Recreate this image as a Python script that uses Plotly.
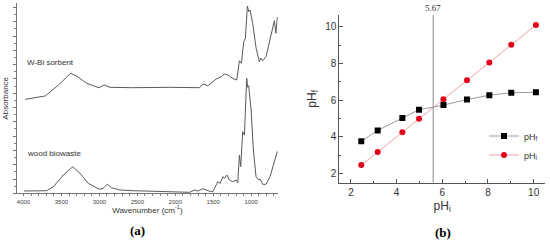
import plotly.graph_objects as go

# ── (a) FTIR spectra, absorbance in arbitrary units ───────────────────────────
wn_sorbent = [3978, 3715, 3540, 3378, 3299, 3168, 3006, 2937, 2862, 2560, 2074, 1680,
              1637, 1571, 1461, 1395, 1352, 1308, 1243, 1190, 1155, 1129, 1098, 1076,
              1050, 1032, 1014, 980, 935, 892, 872, 849, 804, 739, 695, 675, 655]
abs_sorbent = [0.940, 0.973, 1.083, 1.200, 1.173, 1.100, 1.056, 1.083, 1.060, 1.056,
               1.060, 1.056, 1.093, 1.076, 1.143, 1.166, 1.193, 1.183, 1.150, 1.133,
               1.326, 1.300, 1.516, 1.553, 1.873, 1.816, 1.833, 1.700, 1.450, 1.316,
               1.353, 1.326, 1.366, 1.600, 1.726, 1.600, 1.763]

wn_wood = [3991, 3693, 3606, 3475, 3351, 3256, 3147, 3002, 2950, 2897, 2839, 2730,
           2556, 2200, 1811, 1746, 1702, 1637, 1558, 1505, 1440, 1408, 1374, 1348,
           1321, 1286, 1243, 1198, 1177, 1155, 1138, 1112, 1089, 1059, 1046, 1033,
           1001, 971, 936, 901, 883, 849, 804, 752, 695, 655]
abs_wood = [0.023, 0.026, 0.066, 0.183, 0.266, 0.200, 0.100, 0.040, 0.050, 0.090,
            0.056, 0.033, 0.026, 0.020, 0.010, 0.033, 0.023, 0.046, 0.023, 0.016,
            0.116, 0.100, 0.166, 0.150, 0.183, 0.133, 0.116, 0.133, 0.106, 0.383,
            0.266, 0.616, 0.583, 1.150, 1.060, 1.076, 0.833, 0.433, 0.166, 0.133,
            0.143, 0.090, 0.090, 0.166, 0.316, 0.420]

# ── (b) pH drift ──────────────────────────────────────────────────────────────
ph_initial = [2.45, 3.17, 4.25, 4.98, 6.05, 7.08, 8.06, 9.02, 10.1]
ph_final = [3.76, 4.34, 5.02, 5.47, 5.73, 6.03, 6.27, 6.40, 6.43]
ph_zero = 5.6
ph_zero_label = "5.67"

SANS = "Liberation Sans"
SERIF = "Liberation Serif"

fig = go.Figure()

fig.add_trace(go.Scatter(x=wn_sorbent, y=abs_sorbent, mode="lines", showlegend=False,
                         line=dict(color="#5a5a5a", width=1), xaxis="x", yaxis="y"))
fig.add_trace(go.Scatter(x=wn_wood, y=abs_wood, mode="lines", showlegend=False,
                         line=dict(color="#5a5a5a", width=1), xaxis="x", yaxis="y"))

fig.add_trace(go.Scatter(
    x=ph_initial, y=ph_final, mode="lines+markers", name="pH<sub>f</sub>",
    line=dict(color="#9a9a9a", width=1),
    marker=dict(symbol="square", size=6, color="#000000"),
    xaxis="x2", yaxis="y2",
))
fig.add_trace(go.Scatter(
    x=ph_initial, y=ph_initial, mode="lines+markers", name="pH<sub>i</sub>",
    line=dict(color="#f2a0a0", width=1),
    marker=dict(symbol="circle", size=6, color="#e3001b"),
    xaxis="x2", yaxis="y2",
))

fig.add_shape(type="line", x0=ph_zero, x1=ph_zero, y0=1.49, y1=10.65,
              xref="x2", yref="y2", line=dict(color="#8a8a8a", width=1))

axis_common = dict(showgrid=False, zeroline=False, showline=True, mirror=False)

fig.update_layout(
    width=550, height=243,
    margin=dict(l=0, r=0, t=0, b=0),
    paper_bgcolor="white", plot_bgcolor="white",
    font=dict(family=SANS, color="#333"),
    xaxis=dict(
        **axis_common, domain=[0.031, 0.505], range=[4085, 650],
        linecolor="#777", linewidth=1,
        ticks="outside", ticklen=2, tickcolor="#777", tickvals=[4000, 3500, 3000, 2500, 2000, 1500, 1000],
        minor=dict(ticks="outside", ticklen=2, dtick=100, tick0=0, tickcolor="#888"),
        tickfont=dict(size=6, color="#444"), ticklabelstandoff=0,
        title=dict(text="Wavenumber (cm<sup>-1</sup>)", font=dict(size=8, color="#333"), standoff=1),
    ),
    yaxis=dict(
        **axis_common, domain=[0.2045, 0.9864], range=[0, 1.9],
        linecolor="#777", linewidth=1, showticklabels=False,
        ticks="outside", ticklen=3, tickcolor="#777", tick0=0, dtick=0.143,
        minor=dict(ticks="outside", ticklen=2, dtick=0.0715, tickcolor="#888"),
        title=dict(text="Absorbance", font=dict(size=8, color="#333"), standoff=3),
    ),
    xaxis2=dict(
        **axis_common, domain=[0.617, 0.991], range=[1.49, 10.5], anchor="y2",
        linecolor="#555", linewidth=1,
        ticks="inside", ticklen=4, tickcolor="#555", tickvals=[2, 4, 6, 8, 10],
        minor=dict(ticks="inside", ticklen=2, dtick=1, tick0=1, tickcolor="#555"),
        tickfont=dict(size=10, color="#333"),
        title=dict(text="pH<sub>i</sub>", font=dict(size=12, color="#333"), standoff=4),
    ),
    yaxis2=dict(
        **axis_common, domain=[0.2482, 0.9383], range=[1.49, 10.65], anchor="x2",
        linecolor="#555", linewidth=1,
        ticks="inside", ticklen=4, tickcolor="#555", tickvals=[2, 4, 6, 8, 10],
        minor=dict(ticks="inside", ticklen=2, dtick=1, tick0=1, tickcolor="#555"),
        tickfont=dict(size=10, color="#333"),
        title=dict(text="pH<sub>f</sub>", font=dict(size=12, color="#333"), standoff=6),
    ),
    legend=dict(
        x=0.88, y=0.5, xanchor="left", yanchor="top",
        bgcolor="rgba(0,0,0,0)", font=dict(size=9, color="#333"),
        itemwidth=30, tracegroupgap=0,
    ),
    annotations=[
        dict(text="W-Bi sorbent", x=3978, y=1.313, xref="x", yref="y", showarrow=False,
             xanchor="left", yanchor="middle", font=dict(size=8, color="#333")),
        dict(text="wood biowaste", x=3978, y=0.403, xref="x", yref="y", showarrow=False,
             xanchor="left", yanchor="middle", font=dict(size=8, color="#333")),
        dict(text=ph_zero_label, x=ph_zero, y=(243 - 8) / 243, xref="x2", yref="paper",
             showarrow=False, xanchor="center", yanchor="middle",
             font=dict(family=SERIF, size=9, color="#333")),
        dict(text="<b>(a)</b>", x=137 / 550, y=(243 - 230) / 243, xref="paper", yref="paper",
             showarrow=False, xanchor="center", yanchor="middle",
             font=dict(family=SERIF, size=13, color="#000")),
        dict(text="<b>(b)</b>", x=443 / 550, y=(243 - 232) / 243, xref="paper", yref="paper",
             showarrow=False, xanchor="center", yanchor="middle",
             font=dict(family=SERIF, size=13, color="#000")),
    ],
)

# the page's default body margin would push the figure 8px right and down
fig.write_html("out.html", config={"displayModeBar": False},
               post_script="document.body.style.margin='0px';")
